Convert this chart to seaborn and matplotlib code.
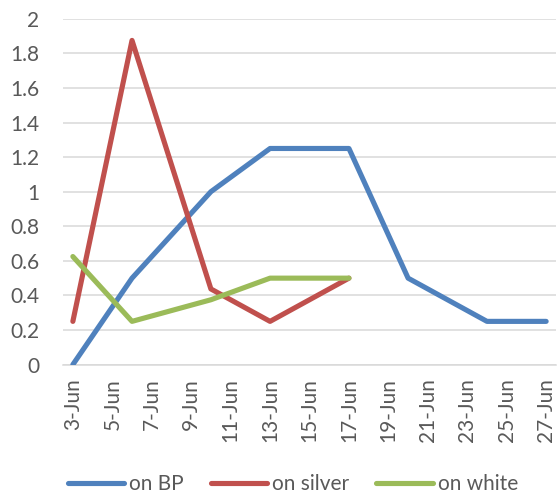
import matplotlib
matplotlib.use("Agg")
import matplotlib.pyplot as plt
from matplotlib.lines import Line2D
from matplotlib.ticker import FixedLocator
import pandas as pd
import seaborn as sns

# Day of June for each reading
days_bp = [3, 6, 10, 13, 17, 20, 24, 27]
days_short = [3, 6, 10, 13, 17]

# Readings per surface
on_bp = [0, 0.5, 1.0, 1.25, 1.25, 0.5, 0.25, 0.25]
on_silver = [0.25, 1.875, 0.4375, 0.25, 0.5]
on_white = [0.625, 0.25, 0.375, 0.5, 0.5]

series_names = ["on BP", "on silver", "on white"]
series_colors = ["#4F81BD", "#C0504D", "#9BBB59"]

tick_days = list(range(3, 28, 2))
tick_labels = [f"{d}-Jun" for d in tick_days]
y_ticks = [0, 0.2, 0.4, 0.6, 0.8, 1.0, 1.2, 1.4, 1.6, 1.8, 2.0]
y_labels = ["0", "0.2", "0.4", "0.6", "0.8", "1", "1.2", "1.4", "1.6", "1.8", "2"]

df = pd.concat([
    pd.DataFrame({"day": days_bp, "value": on_bp, "series": series_names[0]}),
    pd.DataFrame({"day": days_short, "value": on_silver, "series": series_names[1]}),
    pd.DataFrame({"day": days_short, "value": on_white, "series": series_names[2]}),
], ignore_index=True)

sns.set_style("white")
plt.rcParams["font.family"] = ["Lato", "DejaVu Sans"]

text_color = "#595959"
grid_color = "#D9D9D9"
font_size = 15

fig = plt.figure(figsize=(5.6, 4.94), dpi=100)
ax = fig.add_axes([63 / 560, 1 - 364.6 / 494, (556 - 63) / 560, (364.6 - 18.8) / 494])

palette = dict(zip(series_names, series_colors))
sns.lineplot(data=df, x="day", y="value", hue="series", palette=palette,
             estimator=None, sort=False, linewidth=3.7, legend=False, ax=ax,
             solid_capstyle="round", zorder=3)

ax.set_xlim(2.5, 27.5)
ax.set_ylim(0, 2)

# Horizontal gridlines
ax.set_yticks(y_ticks)
ax.set_yticklabels(y_labels)
ax.yaxis.grid(True, color=grid_color, linewidth=1.1)
ax.xaxis.grid(False)
ax.set_axisbelow(True)

# Date labels centred on their day, tick marks between days
ax.set_xticks(tick_days)
ax.set_xticklabels(tick_labels, rotation=90)
ax.xaxis.set_minor_locator(FixedLocator([d - 0.5 for d in tick_days]))
ax.tick_params(axis="x", which="major", length=0, pad=10, labelsize=font_size, colors=text_color)
ax.tick_params(axis="x", which="minor", length=4, width=1, color=grid_color)
ax.tick_params(axis="y", length=0, pad=17, labelsize=font_size, colors=text_color)

for side in ["left", "right", "top"]:
    ax.spines[side].set_visible(False)
ax.spines["bottom"].set_color(grid_color)
ax.spines["bottom"].set_linewidth(1.1)

ax.set_xlabel("")
ax.set_ylabel("")

handles = [Line2D([0], [0], color=c, linewidth=3.7, solid_capstyle="round") for c in series_colors]
fig.legend(handles, series_names, loc="center", bbox_to_anchor=(0.523, 1 - 484 / 494),
           ncol=3, frameon=False, fontsize=font_size, handlelength=2.7, handletextpad=0.25,
           columnspacing=1.3, labelcolor=text_color, borderpad=0, borderaxespad=0)

fig.savefig("out.png", dpi=100)
